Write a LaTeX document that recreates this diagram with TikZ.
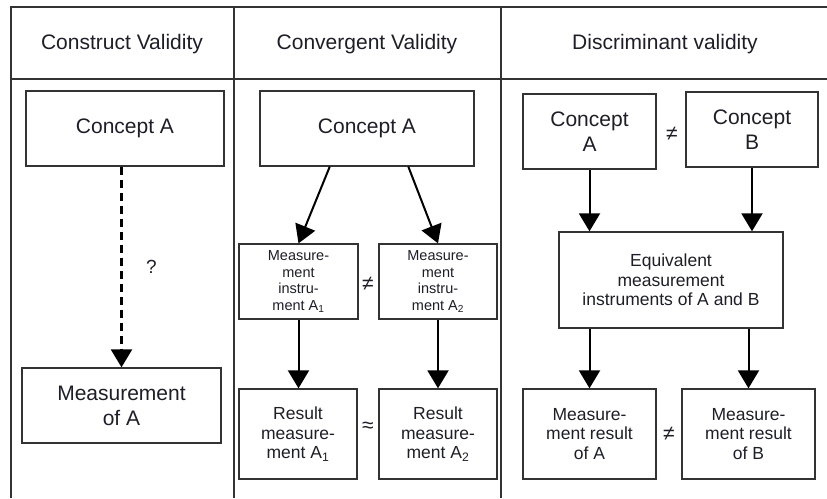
\documentclass[tikz,border=0pt]{standalone}
\usepackage{fontspec}
\setmainfont{Liberation Sans}
\usetikzlibrary{arrows.meta,calc}

\definecolor{ink}{HTML}{1E1E28}
\definecolor{rule}{HTML}{333333}

\tikzset{
  grid/.style={draw=rule, line width=1.4pt},
  box/.style={draw=rule, line width=1.3pt, inner sep=0pt, align=center,
              text=ink, font=\fontsize{21}{25}\selectfont},
  smallbox/.style={box, font=\fontsize{14.5}{16.5}\selectfont},
  midbox/.style={box, font=\fontsize{17.5}{19.5}\selectfont},
  head/.style={text=ink, font=\fontsize{21}{25}\selectfont},
  rel/.style={text=ink, font=\fontsize{21}{24}\selectfont},
  arr/.style={draw=black, line width=2pt,
              -{Triangle[length=18pt,width=21pt]}},
  dasharr/.style={arr, line width=2.4pt, dash pattern=on 8pt off 5pt}
}

\begin{document}
\begin{tikzpicture}[x=1pt, y=-1pt]
  \useasboundingbox (0,0) rectangle (827,498);

  % table rules
  \draw[grid] (11,498) -- (11,7) -- (827,7);
  \draw[grid] (11,79) -- (827,79);
  \draw[grid] (234,7) -- (234,498);
  \draw[grid] (501,7) -- (501,498);

  % column headings
  \node[head] (h1) at (122,44) {Construct Validity};
  \node[head] (h2) at (367,44) {Convergent Validity};
  \node[head] (h3) at (665,44) {Discriminant validity};

  % construct validity
  \node[box, minimum width=198pt, minimum height=75pt] (c1a) at (125,128.5) {Concept A};
  \node[box, minimum width=199pt, minimum height=75pt] (m1) at (121.5,405.5) {Measurement\\of A};
  \draw[dasharr] (c1a.south -| m1.north) -- (m1.north)
    node[midway, right=20pt, text=ink, font=\fontsize{19}{22}\selectfont] (q) {?};

  % convergent validity
  \node[box, minimum width=214pt, minimum height=75pt] (c2a) at (367,128.5) {Concept A};
  \node[smallbox, minimum width=119pt, minimum height=75pt] (i1) at (298.5,281.5)
    {Measure-\\ment\\instru-\\ment A\textsubscript{1}};
  \node[smallbox, minimum width=118pt, minimum height=75pt] (i2) at (438,281.5)
    {Measure-\\ment\\instru-\\ment A\textsubscript{2}};
  \node[midbox, minimum width=118pt, minimum height=90pt] (r1) at (298,434)
    {Result\\measure-\\ment A\textsubscript{1}};
  \node[midbox, minimum width=118pt, minimum height=90pt] (r2) at (438,434)
    {Result\\measure-\\ment A\textsubscript{2}};
  \node[rel] (ne1) at (368,284) {≠};
  \node[rel] (ap1) at (368,427) {≈};

  \draw[arr] ($(c2a.south west)!0.327!(c2a.south east)$) -- (i1.north);
  \draw[arr] ($(c2a.south west)!0.692!(c2a.south east)$) -- (i2.north);
  \draw[arr] (i1.south) -- (i1.south |- r1.north);
  \draw[arr] (i2.south) -- (i2.south |- r2.north);

  % discriminant validity
  \node[box, minimum width=133pt, minimum height=75pt] (c3a) at (589.5,131.5) {Concept\\A};
  \node[box, minimum width=132pt, minimum height=75pt] (c3b) at (752,129.5) {Concept\\B};
  \node[midbox, minimum width=224pt, minimum height=96pt] (eq) at (671,280)
    {Equivalent\\measurement\\instruments of A and B};
  \node[midbox, minimum width=133pt, minimum height=90pt] (ma) at (589.5,434)
    {Measure-\\ment result\\of A};
  \node[midbox, minimum width=133pt, minimum height=90pt] (mb) at (748.5,434)
    {Measure-\\ment result\\of B};
  \node[rel] (ne2) at (672,134) {≠};
  \node[rel] (ne3) at (669,434) {≠};

  \draw[arr] (c3a.south) -- (c3a.south |- eq.north);
  \draw[arr] (c3b.south) -- (c3b.south |- eq.north);
  \draw[arr] (eq.south -| ma.north) -- (ma.north);
  \draw[arr] (eq.south -| mb.north) -- (mb.north);
\end{tikzpicture}
\end{document}
